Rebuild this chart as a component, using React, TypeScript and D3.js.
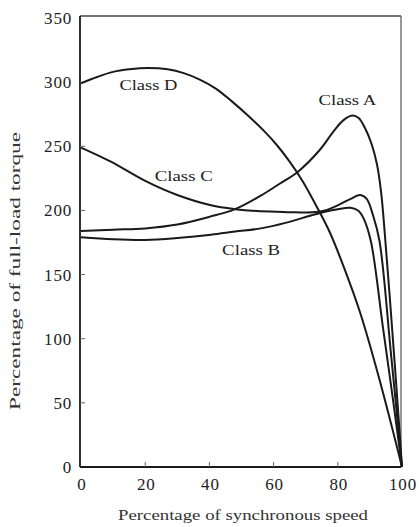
import React from 'react';
import * as d3 from 'd3';

// speed (% of synchronous) and torque (% of full-load)
const speedA = [0, 10, 20, 30, 40, 48, 57, 62, 67.5, 74.5, 78.5, 81.6, 84.5, 86.5, 88.5, 90.5, 92.2, 93.5, 94.7, 96.5, 98.3, 100];
const torqueA = [184, 185, 186, 189, 195, 201, 213, 221, 230, 247.5, 261, 270, 274, 272, 264, 252, 236, 214, 180, 122, 61, 0];

const speedB = [0, 10, 20, 30, 40.5, 48, 56, 64, 71.6, 76, 80, 84, 86.5, 88, 90.3, 94, 97, 100];
const torqueB = [179, 177.5, 177, 178.5, 181, 183.5, 186, 190.5, 196, 199, 201, 202, 199.5, 194, 176, 110, 56, 0];

const speedC = [0, 9.3, 20, 30, 40.5, 48, 55, 61, 67, 72, 76, 80, 84, 87, 89, 91, 93, 96.5, 100];
const torqueC = [249, 238, 223, 212, 204, 201, 199.5, 199, 198.5, 198.5, 200, 204, 209, 212, 209, 196, 176, 90, 0];

const speedD = [0, 5, 10, 15, 21, 27, 32, 37, 42, 47, 52, 57, 61, 65, 69, 73, 77.5, 82, 87, 93, 100];
const torqueD = [299, 304, 308, 310, 311, 310, 307, 302, 295, 285, 274, 262, 251, 238, 223, 205, 183, 155, 120, 68, 0];

const classLabels = ['Class A', 'Class B', 'Class C', 'Class D'];
const labelAt = [[83, 286], [53, 169], [32, 227], [21, 298]]; // data coords of label centres

const xTicks = [0, 20, 40, 60, 80, 100];
const yTicks = [0, 50, 100, 150, 200, 250, 300, 350];

const W = 419;
const H = 527;
const font = "'Liberation Serif', 'Times New Roman', Times, serif";
const ink = '#1a1a1a';

export default function App() {
  const x = d3.scaleLinear().domain([0, 100]).range([81, 402]);
  const y = d3.scaleLinear().domain([0, 350]).range([467, 18]);

  const line = d3
    .line<[number, number]>()
    .x(d => x(d[0]))
    .y(d => y(d[1]))
    .curve(d3.curveCatmullRom.alpha(0.5));

  const series = [
    d3.zip(speedA, torqueA),
    d3.zip(speedB, torqueB),
    d3.zip(speedC, torqueC),
    d3.zip(speedD, torqueD),
  ] as [number, number][][];

  const left = x(0) - 1;
  const right = x(100) - 1;
  const bottom = y(0);
  const top = y(350) - 2;

  return (
    <svg
      width={W}
      height={H}
      style={{ position: 'absolute', left: 0, top: 0, background: '#fff', fontFamily: font }}
    >
      {/* frame */}
      <line x1={left} x2={right} y1={top} y2={top} stroke="#444" strokeWidth={1.3} />
      <line x1={right} x2={right} y1={top} y2={bottom} stroke="#555" strokeWidth={1.2} />
      <line x1={left} x2={left} y1={top} y2={bottom} stroke={ink} strokeWidth={1.8} />
      <line x1={left} x2={right} y1={bottom} y2={bottom} stroke={ink} strokeWidth={1.8} />

      {/* y ticks */}
      {yTicks.map(t => (
        <g key={'y' + t}>
          {t > 0 && t < 350 && (
            <line x1={left} x2={left + 5} y1={y(t)} y2={y(t)} stroke="#666" strokeWidth={1} />
          )}
          <text
            x={72}
            y={y(t)}
            dy="0.35em"
            textAnchor="end"
            fontSize={17}
            letterSpacing={0.8}
            fill="#222"
          >
            {t}
          </text>
        </g>
      ))}

      {/* x ticks */}
      {xTicks.map(t => (
        <g key={'x' + t}>
          {t > 0 && t < 100 && (
            <line x1={x(t)} x2={x(t)} y1={bottom} y2={bottom - 5} stroke="#666" strokeWidth={1} />
          )}
          <text
            x={x(t) + 1}
            y={bottom + 17}
            dy="0.35em"
            textAnchor="middle"
            fontSize={17}
            letterSpacing={0.8}
            fill="#222"
          >
            {t}
          </text>
        </g>
      ))}

      {/* curves */}
      {series.map((s, i) => (
        <path key={i} d={line(s) || ''} fill="none" stroke={ink} strokeWidth={2} />
      ))}

      {/* class labels */}
      {classLabels.map((c, i) => (
        <text
          key={c}
          x={x(labelAt[i][0])}
          y={y(labelAt[i][1])}
          dy="0.35em"
          textAnchor="middle"
          fontSize={15}
          textLength={58}
          lengthAdjust="spacingAndGlyphs"
          fill="#222"
        >
          {c}
        </text>
      ))}

      {/* axis titles */}
      <text
        x={243}
        y={515}
        dy="0.35em"
        textAnchor="middle"
        fontSize={14}
        textLength={250}
        lengthAdjust="spacingAndGlyphs"
        fill="#333"
      >
        Percentage of synchronous speed
      </text>
      <text
        transform="translate(15,271) rotate(-90)"
        dy="0.35em"
        textAnchor="middle"
        fontSize={14}
        textLength={278}
        lengthAdjust="spacingAndGlyphs"
        fill="#333"
      >
        Percentage of full-load torque
      </text>
    </svg>
  );
}
